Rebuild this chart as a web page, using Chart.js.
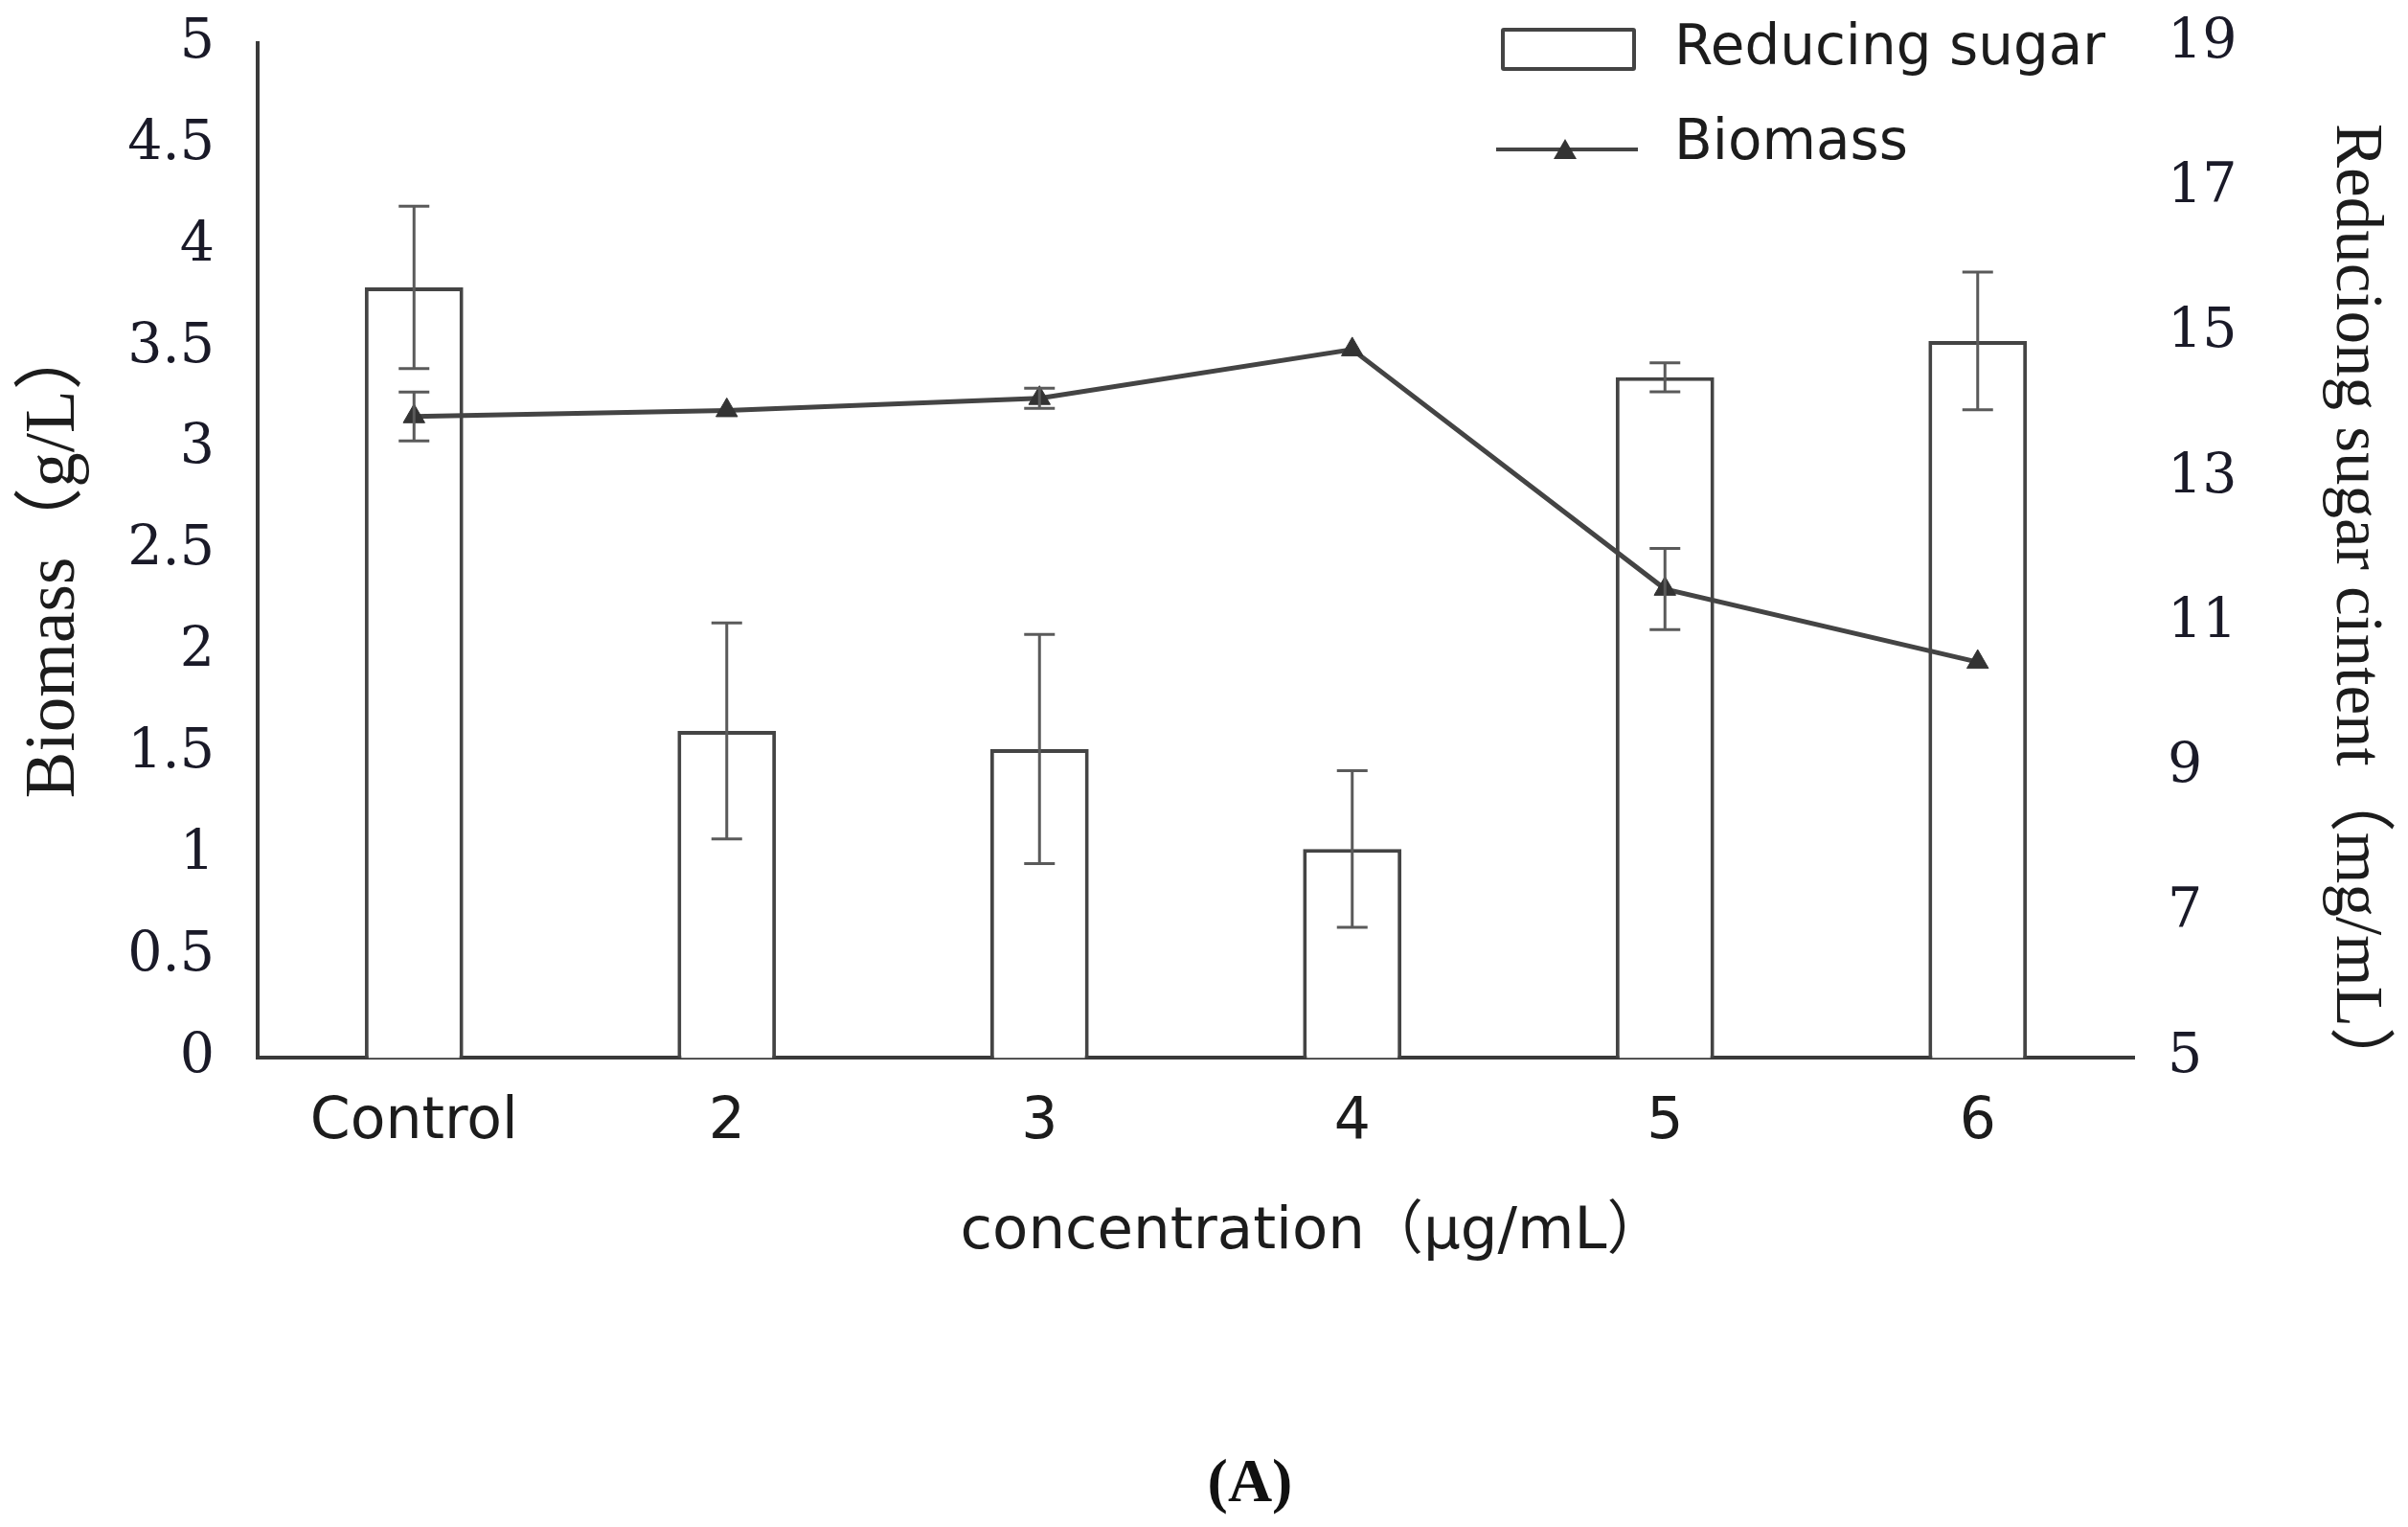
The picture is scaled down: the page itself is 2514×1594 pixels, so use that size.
<!DOCTYPE html>
<html lang="en">
<head>
    <meta charset="UTF-8">
    <title>Biomass and reducing sugar</title>
    <style>
        body {
            margin: 0;
            padding: 0;
            background-color: #ffffff;
            overflow: hidden;
        }

        .wrap {
            position: relative;
            width: 2514px;
            height: 1594px;
        }

        /* hand-made legend, top right */
        .legend {
            position: absolute;
            left: 0;
            top: 0;
            font-family: 'DejaVu Sans', sans-serif;
            font-size: 58px;
            line-height: 58px;
            color: #1c1c1c;
        }

        .legend .box {
            position: absolute;
            left: 1567px;
            top: 29px;
            width: 133px;
            height: 37px;
            border: 4px solid #444;
            border-radius: 3px;
        }

        .legend .line {
            position: absolute;
            left: 1562px;
            top: 154px;
            width: 148px;
            height: 4px;
            background: #444;
        }

        .legend .tri {
            position: absolute;
            left: 1622px;
            top: 145px;
            width: 0;
            height: 0;
            border-left: 12px solid transparent;
            border-right: 12px solid transparent;
            border-bottom: 21px solid #333;
        }

        .legend .label {
            position: absolute;
            left: 1748px;
            white-space: nowrap;
        }
    </style>
    <script src="https://cdn.jsdelivr.net/npm/chart.js"></script>
</head>
<body>
    <div class="wrap">
        <canvas id="chart" width="2514" height="1594"></canvas>
        <div class="legend">
            <div class="box"></div>
            <div class="label" style="top: 18px;">Reducing sugar</div>
            <div class="line"></div>
            <div class="tri"></div>
            <div class="label" style="top: 117px;">Biomass</div>
        </div>
    </div>

    <script>
        // данные
        const categories = ['Control', '2', '3', '4', '5', '6'];
        const sugar = [15.63, 9.51, 9.26, 7.88, 14.39, 14.89];      // mg/mL, правая ось
        const sugarErr = [1.12, 1.49, 1.58, 1.08, 0.2, 0.95];
        const biomass = [3.16, 3.19, 3.25, 3.49, 2.31, 1.95];       // g/L, левая ось
        const biomassErr = [0.12, 0, 0.05, 0, 0.2, 0];
        const leftTicks = ['0', '0.5', '1', '1.5', '2', '2.5', '3', '3.5', '4', '4.5', '5'];
        const rightTicks = ['5', '7', '9', '11', '13', '15', '17', '19'];

        const tickFont = { family: "'DejaVu Serif', serif", size: 57 };

        // фиксированная ширина вертикальной оси, без лишнего отступа сверху/снизу
        function fixWidth(w) {
            return scale => {
                scale.width = w;
                scale.paddingTop = 0;
                scale.paddingBottom = 0;
            };
        }

        // усы погрешностей рисуем сразу после своего набора данных
        const errorBars = {
            id: 'errorBars',
            afterDatasetDraw(chart, args) {
                const ds = chart.data.datasets[args.index];
                if (!ds.errors) return;
                const yScale = chart.scales[ds.yAxisID];
                const ctx = chart.ctx;
                ctx.save();
                ctx.strokeStyle = '#5a5a5a';
                ctx.lineWidth = 3;
                args.meta.data.forEach((el, i) => {
                    const e = ds.errors[i];
                    if (!e) return;
                    const top = yScale.getPixelForValue(ds.data[i] + e);
                    const bot = yScale.getPixelForValue(ds.data[i] - e);
                    const x = el.x;
                    ctx.beginPath();
                    ctx.moveTo(x, top); ctx.lineTo(x, bot);
                    ctx.moveTo(x - 16, top); ctx.lineTo(x + 16, top);
                    ctx.moveTo(x - 16, bot); ctx.lineTo(x + 16, bot);
                    ctx.stroke();
                });
                ctx.restore();
            }
        };

        new Chart(document.getElementById('chart'), {
            data: {
                labels: categories,
                datasets: [
                    {
                        type: 'line',
                        label: 'Biomass',
                        data: biomass,
                        errors: biomassErr,
                        yAxisID: 'y',
                        borderColor: '#444',
                        borderWidth: 5,
                        pointStyle: 'triangle',
                        pointRadius: 13,
                        pointBackgroundColor: '#333',
                        pointBorderColor: '#333',
                        pointBorderWidth: 1,
                        tension: 0,
                        order: 0
                    },
                    {
                        type: 'bar',
                        label: 'Reducing sugar',
                        data: sugar,
                        errors: sugarErr,
                        yAxisID: 'y2',
                        backgroundColor: '#ffffff',
                        borderColor: '#444',
                        borderWidth: 4,
                        barPercentage: 0.315,
                        categoryPercentage: 1,
                        order: 1
                    }
                ]
            },
            options: {
                responsive: false,
                devicePixelRatio: 1,
                animation: false,
                layout: { padding: { top: 45, left: 0, right: 0, bottom: 0 } },
                scales: {
                    x: {
                        offset: true,
                        grid: { display: false, drawTicks: false },
                        border: { display: true, color: '#3a3a3a', width: 4 },
                        ticks: {
                            color: '#1c1c1c',
                            padding: 32,
                            maxRotation: 0,
                            font: { family: "'DejaVu Sans', sans-serif", size: 60 }
                        },
                        title: {
                            display: true,
                            text: '\u3000\u3000\u3000\u3000concentration（μg/mL）',
                            color: '#1c1c1c',
                            padding: { top: 0, bottom: 188 },
                            font: { family: "'DejaVu Sans', 'Noto Sans CJK SC', sans-serif", size: 61 }
                        },
                        afterFit(scale) { scale.height = 408; }
                    },
                    y: {
                        position: 'left',
                        min: 0,
                        max: 5,
                        grid: { display: false, drawTicks: false },
                        border: { display: true, color: '#3a3a3a', width: 4 },
                        ticks: {
                            stepSize: 0.5,
                            color: '#1a1a28',
                            padding: 45,
                            font: tickFont,
                            callback: (v, i) => leftTicks[i]
                        },
                        title: {
                            display: true,
                            text: 'Biomass（g/L） ',
                            color: '#1c1c1c',
                            padding: { top: 14, bottom: 0 },
                            font: { family: "'Liberation Serif', 'Noto Sans CJK SC', serif", size: 73 }
                        },
                        afterFit: fixWidth(269)
                    },
                    y2: {
                        position: 'right',
                        min: 5,
                        max: 19,
                        grid: { display: false, drawTicks: false },
                        border: { display: false },
                        ticks: {
                            stepSize: 2,
                            color: '#1a1a28',
                            padding: 35,
                            font: tickFont,
                            callback: (v, i) => rightTicks[i]
                        },
                        title: {
                            display: true,
                            text: '\u3000   Reduciong sugar cintent（mg/mL）',
                            color: '#1c1c1c',
                            padding: { top: 14, bottom: 0 },
                            font: { family: "'Liberation Serif', 'Noto Sans CJK SC', serif", size: 69 }
                        },
                        afterFit: fixWidth(286)
                    }
                },
                plugins: {
                    legend: { display: false },
                    tooltip: { enabled: false },
                    title: {
                        display: true,
                        position: 'bottom',
                        text: '\u2003  (A)',
                        color: '#111',
                        padding: { top: 0, bottom: 5 },
                        font: { family: "'Liberation Serif', serif", size: 64, weight: 'bold' }
                    }
                }
            },
            plugins: [errorBars]
        });
    </script>
</body>
</html>
